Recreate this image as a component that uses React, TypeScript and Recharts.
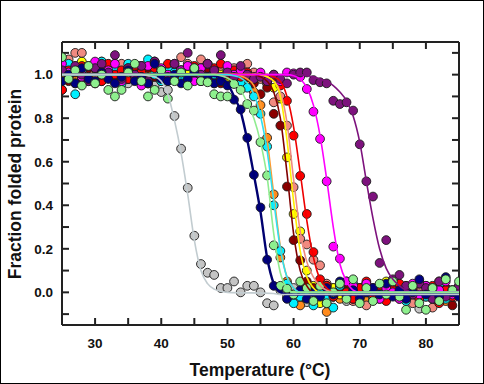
import { ComposedChart, Line, Scatter, XAxis, YAxis } from 'recharts';

const temps = [
  25, 26, 27, 28, 29, 30, 31, 32, 33, 34, 35, 36, 37, 38, 39, 40, 41, 42, 43, 44, 45, 46, 47, 48, 49, 50, 51, 52, 53, 54,
  55, 56, 57, 58, 59, 60, 61, 62, 63, 64, 65, 66, 67, 68, 69, 70, 71, 72, 73, 74, 75, 76, 77, 78, 79, 80, 81, 82, 83, 84, 85,
];

// measured fraction folded, one value per temperature
const grayY = [
  1.01, 0.98, 1.03, 0.99, 1.0, 0.97, 1.02, 0.99, 1.01, 0.96,
  0.96, 1.02, 0.99, 0.97, 0.95, 0.92, 0.93, 0.81, 0.66, 0.48,
  0.26, 0.13, 0.09, 0.08, 0.02, 0.02, 0.05, 0.0, 0.03, 0.03,
  0.0, -0.05, -0.06, 0.01, -0.02, 0.02, -0.03, -0.045, 0.01, -0.02,
  0.03, -0.01, 0.02, -0.04, 0.0, 0.02, -0.02, 0.01, -0.03, 0.03,
  0.0, -0.02, 0.02, -0.01, -0.075, 0.01, -0.03, 0.02, 0.0, -0.02,
  0.01,
];
const navyY = [
  0.97, 1.0, 0.96, 1.03, 0.98, 0.97, 1.01, 0.98, 0.96, 0.99,
  1.02, 0.97, 0.99, 0.96, 1.05, 0.98, 0.97, 1.0, 0.96, 0.98,
  1.01, 0.97, 0.99, 0.96, 0.97, 0.95, 0.885, 0.84, 0.71, 0.54,
  0.39, 0.15, 0.03, 0.02, -0.03, -0.01, 0.01, -0.03, 0.0, -0.02,
  0.02, -0.01, 0.05, -0.02, 0.01, -0.03, 0.0, 0.02, -0.01, 0.04,
  -0.02, 0.01, -0.03, 0.0, 0.06, -0.01, 0.02, -0.02, 0.07, 0.0,
  -0.02,
];
const greenY = [
  1.08, 0.98, 1.02, 0.95, 1.04, 0.96, 1.0, 0.93, 0.9, 0.93,
  1.01, 1.05, 0.97, 0.9, 0.93, 1.02, 0.89, 0.97, 1.01, 0.95,
  1.03, 0.97, 0.965, 0.91, 0.9, 0.9, 0.957, 0.93, 0.865, 0.835,
  0.69, 0.537, 0.216, 0.03, 0.017, -0.01, 0.05, 0.02, -0.04, 0.03,
  -0.05, 0.0, 0.04, -0.03, 0.06, -0.05, 0.02, -0.04, 0.04, -0.01,
  0.05, -0.02, -0.08, 0.03, -0.05, -0.08, 0.02, -0.04, 0.06, 0.01,
  0.05,
];
const cyanY = [
  1.03, 1.05, 0.91, 1.02, 0.97, 1.04, 1.06, 0.99, 1.03, 0.96,
  1.05, 0.98, 1.04, 1.07, 1.0, 0.97, 1.03, 1.01, 0.99, 1.04,
  1.02, 0.98, 1.05, 1.0, 0.97, 1.02, 0.99, 0.96, 0.94, 0.9,
  0.82, 0.67, 0.4, 0.19, 0.04, -0.05, -0.02, 0.01, -0.06, 0.02,
  -0.03, -0.07, 0.03, -0.01, 0.04, -0.02, 0.01, -0.03, 0.0, 0.02,
  -0.01, 0.03, -0.04, 0.0, 0.05, -0.02, 0.01, 0.04, -0.03, 0.0,
  0.02,
];
const orangeY = [
  1.0, 1.04, 0.99, 1.03, 0.98, 1.01, 0.97, 1.02, 1.05, 1.0,
  0.98, 1.03, 1.01, 0.97, 1.02, 0.99, 1.04, 1.0, 0.98, 1.01,
  1.03, 0.99, 1.01, 0.98, 1.02, 1.0, 0.97, 0.98, 0.95, 0.92,
  0.86, 0.71, 0.45, 0.16, 0.05, -0.02, -0.06, 0.03, -0.05, 0.01,
  -0.09, 0.02, -0.03, 0.04, -0.01, 0.02, -0.04, 0.0, 0.03, -0.02,
  0.01, -0.03, 0.02, 0.0, -0.02, 0.03, -0.01, 0.02, -0.04, 0.01,
  0.0,
];
const maroonY = [
  0.93, 0.97, 1.01, 0.98, 1.03, 0.96, 0.99, 1.02, 0.97, 1.0,
  0.98, 1.01, 0.96, 1.03, 0.99, 0.97, 1.0, 0.98, 1.02, 0.96,
  1.0, 0.97, 1.03, 0.99, 0.96, 1.01, 0.98, 0.97, 0.99, 0.96,
  0.91, 0.94, 0.82, 0.766, 0.486, 0.24, 0.147, 0.05, 0.02, -0.01,
  0.03, -0.02, 0.01, 0.04, -0.03, 0.0, 0.02, -0.01, 0.03, -0.02,
  0.0, 0.02, -0.03, 0.01, 0.04, -0.02, 0.0, -0.04, 0.02, -0.06,
  0.01,
];
const yellowY = [
  1.02, 0.99, 1.04, 1.06, 1.0, 0.98, 1.03, 1.01, 0.99, 1.02,
  1.0, 1.03, 0.98, 1.01, 1.04, 0.99, 1.02, 1.0, 0.97, 1.01,
  0.99, 1.02, 1.0, 0.98, 1.01, 0.99, 1.0, 0.98, 0.99, 0.97,
  0.99, 0.96, 0.94, 0.89, 0.62, 0.36, 0.28, 0.1, 0.03, -0.05,
  -0.05, 0.02, -0.01, 0.03, 0.0, -0.02, 0.04, -0.01, 0.02, 0.05,
  0.0, -0.02, 0.03, 0.01, -0.01, 0.02, -0.03, 0.05, 0.0, -0.01,
  0.02,
];
const salmonY = [
  1.04, 1.07, 1.1, 1.1, 1.02, 0.99, 1.06, 1.03, 0.97, 1.05,
  1.02, 0.98, 1.04, 0.96, 1.06, 1.01, 0.98, 1.03, 1.08, 1.05,
  0.99, 1.07, 1.02, 0.96, 1.04, 1.0, 1.03, 0.97, 1.05, 1.01,
  0.98, 0.96, 0.873, 0.9, 0.766, 0.483, 0.246, 0.22, 0.15, 0.124,
  0.04, -0.02, 0.03, 0.05, -0.04, 0.01, -0.06, 0.02, 0.0, -0.03,
  0.04, -0.01, 0.02, -0.05, 0.01, 0.03, -0.07, 0.0, 0.02, -0.03,
  0.01,
];
const redY = [
  0.93, 1.02, 0.96, 1.04, 0.99, 1.03, 0.97, 1.05, 1.0, 1.02,
  0.98, 1.04, 1.01, 0.96, 1.03, 1.0, 1.05, 0.99, 1.02, 0.97,
  1.04, 1.01, 0.98, 1.03, 1.05, 1.0, 1.02, 0.99, 1.01, 0.98,
  1.0, 0.97, 0.99, 0.95, 0.88, 0.72, 0.535, 0.36, 0.185, 0.06,
  0.03, -0.02, 0.04, 0.0, -0.03, 0.02, 0.05, -0.01, 0.03, -0.04,
  0.01, 0.04, -0.02, 0.02, -0.03, 0.0, 0.03, -0.05, 0.01, -0.02,
  0.03,
];
const magentaY = [
  1.05, 1.01, 1.03, 0.99, 1.04, 1.06, 1.0, 1.02, 1.05, 0.97,
  1.03, 0.99, 0.95, 1.04, 1.06, 1.03, 1.0, 1.05, 1.02, 1.04,
  0.97, 1.03, 1.05, 1.01, 0.99, 1.04, 1.0, 1.02, 1.0, 0.99,
  1.01, 0.98, 1.0, 0.97, 1.01, 1.006, 0.99, 0.934, 0.83, 0.705,
  0.51, 0.21, 0.155, 0.05, 0.03, -0.02, 0.04, 0.01, -0.03, 0.02,
  0.0, -0.03, 0.02, 0.04, -0.01, 0.03, -0.02, 0.01, 0.05, -0.01,
  0.02,
];
const purpleY = [
  1.02, 0.99, 1.04, 1.0, 0.97, 1.03, 1.05, 1.01, 1.09, 0.98,
  1.03, 1.0, 1.04, 0.97, 1.06, 1.02, 0.99, 1.05, 1.01, 1.1,
  1.03, 1.0, 1.05, 1.02, 1.09, 1.01, 0.99, 1.04, 1.0, 0.98,
  0.99, 0.97, 1.0, 0.98, 0.96, 1.0, 1.01, 1.01, 0.975, 0.965,
  0.96, 0.88, 0.865, 0.873, 0.835, 0.68, 0.51, 0.44, 0.135, 0.24,
  0.06, 0.08, 0.03, -0.01, 0.04, 0.02, -0.03, 0.05, -0.02, 0.01,
  0.03,
];

// fitted two-state curves, [temperature, fraction]
const grayFit = [[25, 1], [37, 1], [38, 0.995], [39, 0.99], [40, 0.97], [41, 0.91], [42, 0.79], [43, 0.64], [44, 0.45], [45, 0.24], [46, 0.1], [47, 0.04], [48, 0.015], [49, 0.005], [50, 0], [57, -0.005], [58, -0.01], [85, -0.01]];
const navyFit = [[25, 1], [47, 1], [48, 0.995], [49, 0.985], [50, 0.96], [51, 0.9], [52, 0.83], [53, 0.7], [54, 0.54], [55, 0.37], [56, 0.16], [57, 0.04], [58, 0], [59, -0.01], [85, -0.01]];
const greenFit = [[25, 1], [48, 1], [49, 0.995], [50, 0.985], [51, 0.965], [52, 0.93], [53, 0.87], [54, 0.8], [55, 0.69], [56, 0.53], [57, 0.27], [58, 0.09], [59, 0.02], [60, 0], [85, 0]];
const cyanFit = [[25, 1], [50, 1], [51, 0.995], [52, 0.985], [53, 0.96], [54, 0.91], [55, 0.81], [56, 0.65], [57, 0.42], [58, 0.2], [59, 0.07], [60, 0.02], [61, 0], [85, 0]];
const orangeFit = [[25, 1], [51, 1], [52, 0.995], [53, 0.98], [54, 0.95], [55, 0.87], [56, 0.7], [57, 0.45], [58, 0.21], [59, 0.07], [60, 0.02], [61, 0], [85, 0]];
const maroonFit = [[25, 1], [54, 1], [55, 0.99], [56, 0.97], [57, 0.92], [58, 0.8], [59, 0.55], [60, 0.27], [61, 0.1], [62, 0.03], [63, 0], [85, 0]];
const yellowFit = [[25, 1], [55, 1], [56, 0.99], [57, 0.97], [58, 0.9], [59, 0.7], [60, 0.42], [61, 0.19], [62, 0.07], [63, 0.02], [64, 0], [85, 0]];
const salmonFit = [[25, 1], [55, 1], [56, 0.99], [57, 0.97], [58, 0.92], [59, 0.78], [60, 0.52], [61, 0.28], [62, 0.14], [63, 0.07], [64, 0.03], [65, 0.01], [66, 0], [85, 0]];
const redFit = [[25, 1], [56, 1], [57, 0.99], [58, 0.97], [59, 0.9], [60, 0.76], [61, 0.55], [62, 0.33], [63, 0.16], [64, 0.06], [65, 0.02], [66, 0], [85, 0]];
const magentaFit = [[25, 1], [59, 1], [60, 0.995], [61, 0.98], [62, 0.94], [63, 0.86], [64, 0.72], [65, 0.52], [66, 0.3], [67, 0.13], [68, 0.05], [69, 0.01], [70, 0], [85, 0]];
const purpleFit = [[25, 1], [61, 1], [62, 0.995], [63, 0.99], [64, 0.98], [65, 0.97], [66, 0.95], [67, 0.92], [68, 0.88], [69, 0.81], [70, 0.69], [71, 0.51], [72, 0.34], [73, 0.2], [74, 0.11], [75, 0.06], [76, 0.03], [77, 0.01], [78, 0], [85, 0]];

const xLabelTicks = [30, 40, 50, 60, 70, 80];
const xMarkTicks = [30, 35, 40, 45, 50, 55, 60, 65, 70, 75, 80];
const yLabelTicks = [0, 0.2, 0.4, 0.6, 0.8, 1.0];
const yMarkTicks = [-0.1, 0, 0.1, 0.2, 0.3, 0.4, 0.5, 0.6, 0.7, 0.8, 0.9, 1.0, 1.1];

const FONT = "'Liberation Sans', Arial, sans-serif";
const FRAME = '#222';

const toPoints = (ys: number[]) => temps.map((t, i) => ({ x: t, y: ys[i] }));
const toFit = (pairs: number[][]) => pairs.map(([x, y]) => ({ x, y }));

// symbols, bottom to top
const pointSeries = [
  { key: 'gray', fill: '#c4c4c4', ys: grayY },
  { key: 'orange', fill: '#ff8a1c', ys: orangeY },
  { key: 'yellow', fill: '#ffff00', ys: yellowY },
  { key: 'salmon', fill: '#f08a80', ys: salmonY },
  { key: 'maroon', fill: '#8b0000', ys: maroonY },
  { key: 'cyan', fill: '#00f0ff', ys: cyanY },
  { key: 'red', fill: '#ff0000', ys: redY },
  { key: 'magenta', fill: '#ff00ff', ys: magentaY },
  { key: 'purple', fill: '#7d127d', ys: purpleY },
  { key: 'navy', fill: '#000080', ys: navyY },
  { key: 'green', fill: '#8ef08e', ys: greenY },
];

// fitted curves drawn over the symbols, bottom to top
const fitSeries = [
  { key: 'purple', stroke: '#7d127d', fit: purpleFit, w: 1.6 },
  { key: 'red', stroke: '#ee0000', fit: redFit, w: 1.6 },
  { key: 'salmon', stroke: '#f08a80', fit: salmonFit, w: 1.6 },
  { key: 'yellow', stroke: '#ffee00', fit: yellowFit, w: 1.6 },
  { key: 'maroon', stroke: '#800000', fit: maroonFit, w: 1.6 },
  { key: 'orange', stroke: '#ff9a30', fit: orangeFit, w: 1.6 },
  { key: 'magenta', stroke: '#ff00ff', fit: magentaFit, w: 1.6 },
  { key: 'navy', stroke: '#000070', fit: navyFit, w: 2.4 },
  { key: 'cyan', stroke: '#30e0f0', fit: cyanFit, w: 1.6 },
  { key: 'green', stroke: '#90ec90', fit: greenFit, w: 1.6 },
  { key: 'gray', stroke: '#c2ccd0', fit: grayFit, w: 1.6 },
];

const tickStyle = { fontSize: 13.5, fontWeight: 700, fill: '#111', fontFamily: FONT };
const noLabel = () => <g />;

function YTitle() {
  return (
    <text x={21} y={184} transform="rotate(-90 21 184)" textAnchor="middle" fontSize={17.5} fontWeight={700} fill="#111" fontFamily={FONT}>
      Fraction folded protein
    </text>
  );
}

function XTitle() {
  return (
    <text x={260} y={376} textAnchor="middle" fontSize={17.5} fontWeight={700} fill="#111" fontFamily={FONT}>
      Temperature (°C)
    </text>
  );
}

export default function App() {
  return (
    <div style={{ position: 'fixed', left: 0, top: 0, width: 484, height: 384, background: '#fff' }}>
      <ComposedChart width={484} height={384} margin={{ top: 42, right: 25, bottom: 0, left: 0 }}>
        <XAxis
          dataKey="x"
          type="number"
          domain={[25, 85]}
          allowDataOverflow
          ticks={xLabelTicks}
          interval={0}
          height={59}
          tickLine={false}
          tickMargin={7}
          axisLine={{ stroke: FRAME, strokeWidth: 2 }}
          tick={tickStyle}
          label={<XTitle />}
        />
        <XAxis xAxisId="xb" dataKey="x" type="number" domain={[25, 85]} allowDataOverflow ticks={xMarkTicks} interval={0} mirror orientation="bottom" tickSize={7} tickLine={{ stroke: FRAME, strokeWidth: 2 }} axisLine={false} tick={noLabel} />
        <XAxis xAxisId="xt" dataKey="x" type="number" domain={[25, 85]} allowDataOverflow ticks={xMarkTicks} interval={0} mirror orientation="top" tickSize={7} tickLine={{ stroke: FRAME, strokeWidth: 2 }} axisLine={{ stroke: FRAME, strokeWidth: 2 }} tick={noLabel} />
        <YAxis
          type="number"
          domain={[-0.15, 1.15]}
          allowDataOverflow
          ticks={yLabelTicks}
          interval={0}
          width={62}
          tickLine={false}
          tickMargin={3}
          axisLine={{ stroke: FRAME, strokeWidth: 2 }}
          tick={tickStyle}
          tickFormatter={(v: number) => v.toFixed(1)}
          label={<YTitle />}
        />
        <YAxis yAxisId="yl" type="number" domain={[-0.15, 1.15]} allowDataOverflow ticks={yMarkTicks} interval={0} mirror orientation="left" tickSize={7} tickLine={{ stroke: FRAME, strokeWidth: 2 }} axisLine={false} tick={noLabel} />
        <YAxis yAxisId="yr" type="number" domain={[-0.15, 1.15]} allowDataOverflow ticks={yMarkTicks} interval={0} mirror orientation="right" tickSize={7} tickLine={{ stroke: FRAME, strokeWidth: 2 }} axisLine={{ stroke: FRAME, strokeWidth: 2 }} tick={noLabel} />

        {pointSeries.map((s, i) => (
          <Scatter
            key={'p-' + s.key}
            data={toPoints(s.ys)}
            dataKey="y"
            isAnimationActive={false}
            zIndex={600 + i}
            shape={(p: any) => <circle cx={p.cx} cy={p.cy} r={4.4} fill={s.fill} stroke="#1a1a1a" strokeWidth={0.9} />}
          />
        ))}
        {fitSeries.map((s, i) => (
          <Line
            key={'l-' + s.key}
            data={toFit(s.fit)}
            dataKey="y"
            type="monotone"
            stroke={s.stroke}
            strokeWidth={s.w}
            dot={false}
            activeDot={false}
            isAnimationActive={false}
            zIndex={700 + i}
          />
        ))}
      </ComposedChart>
      <div style={{ position: 'absolute', inset: 0, border: '1px solid #000', pointerEvents: 'none' }} />
    </div>
  );
}
